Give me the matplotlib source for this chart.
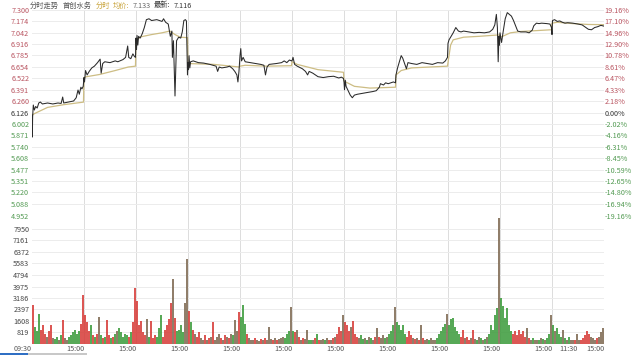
import numpy as np
import matplotlib
matplotlib.use("Agg")
import matplotlib.pyplot as plt
from matplotlib.patches import Rectangle

plt.rcParams['font.family'] = ['Noto Sans CJK SC', 'DejaVu Sans']

# ---- data ----
# price line keypoints: time in trading days from the first open, price
price_t = [
    0.000, 0.006, 0.012, 0.025, 0.045, 0.070, 0.100, 0.130, 0.160, 0.200, 0.300, 0.400, 0.500,
    0.560, 0.590, 0.610, 0.700, 0.800, 0.850, 0.885, 0.910, 0.940, 0.960, 0.985,
    1.000, 1.010, 1.030, 1.060, 1.100, 1.150, 1.200, 1.260, 1.310, 1.330, 1.360, 1.400, 1.500,
    1.600, 1.650, 1.750, 1.800, 1.840, 1.860, 1.900, 1.940, 1.970, 1.990,
    2.000, 2.010, 2.020, 2.035, 2.050, 2.080, 2.120, 2.160, 2.200, 2.250, 2.300, 2.400, 2.500,
    2.530, 2.570, 2.620, 2.660, 2.690, 2.700, 2.720, 2.750, 2.780, 2.820, 2.860, 2.890, 2.920,
    2.950, 2.970, 2.990,
    3.000, 3.010, 3.020, 3.035, 3.050, 3.100, 3.200, 3.300, 3.420, 3.540, 3.570, 3.600, 3.650,
    3.750, 3.800, 3.860, 3.900, 3.940, 3.960, 3.980,
    4.000, 4.015, 4.030, 4.060, 4.100, 4.200, 4.300, 4.400, 4.460, 4.490, 4.520, 4.560, 4.700,
    4.800, 4.850, 4.900, 4.950, 4.990,
    5.000, 5.020, 5.050, 5.100, 5.200, 5.260, 5.300, 5.330, 5.400, 5.500, 5.600, 5.700, 5.800,
    5.900, 5.950, 5.990,
    6.000, 6.010, 6.025, 6.040, 6.080, 6.120, 6.160, 6.200, 6.260, 6.350, 6.450, 6.550, 6.620,
    6.680, 6.700, 6.760, 6.800, 6.850, 6.900, 6.950, 6.990,
    7.000, 7.030, 7.060, 7.100, 7.130, 7.160, 7.200, 7.230, 7.300, 7.400, 7.500, 7.600, 7.700,
    7.800, 7.900, 7.950, 7.990,
    8.000, 8.020, 8.060, 8.100, 8.150, 8.200, 8.250, 8.300, 8.400, 8.500, 8.600, 8.700, 8.800,
    8.860, 8.900, 8.930, 8.950, 8.965, 8.980, 8.990,
    9.000, 9.030, 9.060, 9.100, 9.140, 9.180, 9.220, 9.260, 9.300, 9.340, 9.400, 9.500, 9.560,
    9.620, 9.650, 9.700, 9.750, 9.800, 9.900, 9.960, 9.990,
    10.000, 10.010, 10.050, 10.100, 10.150, 10.200, 10.250, 10.300, 10.400, 10.500, 10.580,
    10.650, 10.700, 10.760, 10.820, 10.880, 10.940, 11.000,
]
price_v = [
    6.100, 5.852, 6.080, 6.217, 6.160, 6.200, 6.183, 6.240, 6.251, 6.229, 6.240, 6.229, 6.240,
    6.235, 6.308, 6.240, 6.251, 6.263, 6.300, 6.388, 6.340, 6.420, 6.400, 6.430,
    6.530, 6.480, 6.610, 6.560, 6.600, 6.640, 6.660, 6.700, 6.740, 6.580, 6.690, 6.710, 6.700,
    6.720, 6.710, 6.735, 6.760, 6.890, 6.760, 6.745, 6.800, 6.770, 6.760,
    6.980, 6.850, 7.010, 6.900, 7.000, 6.980, 7.030, 7.100, 7.190, 7.200, 7.180, 7.190, 7.170,
    7.200, 7.160, 7.140, 7.000, 7.060, 6.760, 6.950, 6.320, 6.950, 6.990, 6.980, 7.050, 7.180,
    7.190, 7.175, 6.560,
    6.700, 6.620, 6.780, 6.640, 6.710, 6.720, 6.700, 6.695, 6.680, 6.660, 6.600, 6.650, 6.640,
    6.650, 6.660, 6.630, 6.600, 6.560, 6.480, 6.600,
    6.780, 6.860, 6.720, 6.760, 6.710, 6.700, 6.690, 6.680, 6.670, 6.560, 6.650, 6.680, 6.690,
    6.700, 6.720, 6.700, 6.730, 6.720,
    6.720, 6.760, 6.680, 6.660, 6.630, 6.600, 6.560, 6.600, 6.580, 6.540, 6.530, 6.540, 6.545,
    6.525, 6.535, 6.520,
    6.480, 6.390, 6.500, 6.430, 6.380, 6.330, 6.300, 6.330, 6.340, 6.350, 6.360, 6.370, 6.380,
    6.420, 6.460, 6.445, 6.470, 6.460, 6.470, 6.480, 6.470,
    6.560, 6.640, 6.700, 6.780, 6.750, 6.700, 6.630, 6.700, 6.690, 6.680, 6.700, 6.690, 6.680,
    6.700, 6.695, 6.720, 6.760,
    6.920, 6.960, 7.000, 7.040, 7.100, 7.060, 7.050, 7.060, 7.050, 7.040, 7.045, 7.040, 7.050,
    7.080, 7.130, 7.250, 7.100, 6.710, 7.000, 6.900,
    7.040, 6.930, 7.050, 7.200, 7.270, 7.250, 7.230, 7.180, 7.120, 7.060, 7.050, 7.050, 7.040,
    7.070, 7.120, 7.150, 7.145, 7.150, 7.145, 7.140, 7.100,
    7.020, 7.180, 7.190, 7.170, 7.175, 7.160, 7.150, 7.155, 7.150, 7.140, 7.130,
    7.100, 7.080, 7.075, 7.100, 7.110, 7.125, 7.116,
]

# average price line keypoints
avg_t = [
    0.00, 0.05, 0.30, 0.60, 0.99,
    1.00, 1.05, 1.30, 1.60, 1.85, 1.99,
    2.00, 2.10, 2.30, 2.50, 2.65, 2.75, 2.85, 2.99,
    3.00, 3.50, 3.99,
    4.00, 4.10, 4.50, 4.99,
    5.00, 5.10, 5.50, 5.99,
    6.00, 6.20, 6.50, 6.99,
    7.00, 7.10, 7.30, 7.99,
    8.00, 8.05, 8.10, 8.30, 8.60, 8.95, 8.99,
    9.00, 9.05, 9.20, 9.40, 9.70, 9.99,
    10.00, 10.10, 10.40, 10.70, 11.00,
]
avg_v = [
    6.100, 6.120, 6.190, 6.220, 6.250,
    6.530, 6.540, 6.565, 6.610, 6.650, 6.660,
    6.960, 6.995, 7.020, 7.040, 7.060, 7.020, 6.990, 6.985,
    6.690, 6.680, 6.650,
    6.660, 6.670, 6.660, 6.665,
    6.710, 6.680, 6.620, 6.590,
    6.490, 6.430, 6.410, 6.420,
    6.560, 6.610, 6.640, 6.660,
    6.700, 6.900, 6.960, 6.990, 7.000, 7.015, 7.015,
    6.990, 7.000, 7.040, 7.055, 7.065, 7.075,
    7.150, 7.160, 7.145, 7.135, 7.133,
]

# volume, 26 bars per day, and direction of each bar (u=up, d=down, n=flat)
volume = [
    # day 1
    2700, 1200, 900, 2100, 1000, 1300, 700, 500, 900, 1300, 400, 350, 500,
    300, 600, 1650, 400, 300, 450, 600, 800, 950, 700, 900, 1400, 3400,
    # day 2
    2000, 1500, 900, 1300, 600, 500, 700, 1850, 600, 400, 500, 1650, 600,
    400, 500, 700, 900, 1100, 800, 500, 700, 600, 500, 800, 1500, 3850,
    # day 3
    3000, 1300, 1600, 800, 600, 1700, 500, 1600, 400, 600, 500, 1100, 2000,
    500, 1000, 1300, 1700, 2800, 4500, 1800, 900, 1000, 1300, 800, 2800, 5900,
    # day 4
    2300, 1500, 1000, 700, 500, 800, 400, 300, 600, 300, 400, 500, 1500,
    300, 500, 700, 400, 300, 600, 500, 400, 700, 600, 1650, 900, 2200,
    # day 5
    1900, 2700, 1400, 700, 400, 300, 250, 400, 300, 200, 350, 300, 400,
    300, 1150, 350, 250, 400, 300, 350, 400, 500, 400, 700, 900, 2550,
    # day 6
    900, 800, 1000, 500, 300, 400, 350, 1000, 300, 250, 300, 400, 700,
    300, 250, 350, 300, 400, 300, 250, 400, 500, 700, 1200, 900, 2000,
    # day 7
    1500, 1300, 900, 1200, 1600, 700, 500, 400, 600, 350, 400, 300, 500,
    400, 300, 450, 1100, 500, 400, 600, 400, 500, 700, 900, 1300, 2550,
    # day 8
    1500, 1300, 1000, 1300, 700, 500, 900, 600, 400, 350, 400, 300, 1300,
    400, 300, 350, 300, 400, 300, 250, 400, 700, 900, 1200, 1400, 2100,
    # day 9
    1300, 1700, 1800, 1200, 900, 700, 500, 1000, 400, 500, 300, 400, 1000,
    350, 300, 500, 400, 300, 350, 500, 700, 1300, 1000, 2000, 2500, 8700,
    # day 10
    3200, 2600, 1800, 2500, 1300, 900, 700, 900, 600, 1000, 700, 900, 500,
    1100, 400, 300, 400, 300, 250, 300, 400, 350, 300, 400, 700, 2000,
    # day 11
    1300, 900, 1100, 700, 500, 1000, 400, 300, 500, 300, 250, 300, 700,
    300, 250, 400, 600, 900, 700, 500, 400, 300, 400, 500, 800, 1100,
]
vol_dir = (
    "uddduuunuunddndunndddddduun"[:26]
    + "uuududunduduududnddddduduuun"[:26]
    + "uuuuunduuuddduuuuunudddden"[:26]
    + "udunuunnunununnnununundnnuu"[:26]
    + "dddunnnunnununnnununnndddn"
    + "dunununnddnudunndnununuuun"
    + "uuunuuunddndndnununndndddn"
    + "ddddduuununununndnnndddddn"
    + "dddddduunuunundndndndddddn"
    + "dddddduuuuuuunundnndndnddn"
    + "dndddndndnnunnuuuuunnnunnn"
)

price_ticks = [7.300, 7.174, 7.042, 6.916, 6.785, 6.654, 6.522, 6.391, 6.260, 6.126,
               6.002, 5.871, 5.740, 5.608, 5.477, 5.351, 5.220, 5.088, 4.952]
pct_labels = ["19.16%", "17.10%", "14.96%", "12.90%", "10.78%", "8.61%", "6.47%", "4.33%",
              "2.18%", "0.00%", "-2.02%", "-4.16%", "-6.31%", "-8.45%", "-10.59%",
              "-12.65%", "-14.80%", "-16.94%", "-19.16%"]
prev_close = 6.126
vol_ticks = [7950, 7161, 6372, 5583, 4794, 3975, 3186, 2397, 1608, 819]
x_ticks = [0, 1, 2, 3, 4, 5, 6, 7, 8, 9, 10, 10.5, 11]
x_labels = ["09:30"] + ["15:00"] * 10 + ["11:30", "15:00"]
n_days = 11
bars_per_day = 26

RED = "#b95460"
GREEN = "#529a52"
GRID = "#ececec"
FS = 5.2

fig = plt.figure(figsize=(6.4, 3.55), dpi=100)
W, H = 640.0, 355.0
ax = fig.add_axes([32 / W, 1 - 216 / H, 572 / W, 206 / H])
axv = fig.add_axes([32 / W, 1 - 344 / H, 572 / W, 128 / H])

for a in (ax, axv):
    for s in a.spines.values():
        s.set_visible(False)
    a.set_xlim(0, n_days)
    a.tick_params(length=0, labelsize=FS, pad=2)
    for d in range(1, n_days):
        a.axvline(d, color="#dcdcdc", lw=0.7, zorder=0)
    a.grid(axis="y", color=GRID, lw=0.7, zorder=0)
    a.set_axisbelow(True)

# price panel
ax.set_ylim(price_ticks[-1], price_ticks[0])
ax.set_yticks(price_ticks)
ax.set_yticklabels(["%.3f" % p for p in price_ticks])
ax.set_xticks([])
ax.plot(avg_t, avg_v, color="#cdbd84", lw=0.9, zorder=2)
ax.plot(price_t, price_v, color="#2a2a2a", lw=0.75, zorder=3)

axr = ax.twinx()
axr.set_ylim(price_ticks[-1], price_ticks[0])
axr.set_yticks(price_ticks)
axr.set_yticklabels(pct_labels)
axr.tick_params(length=0, labelsize=FS, pad=0.5)
for s in axr.spines.values():
    s.set_visible(False)

for lab_l, lab_r, p in zip(ax.get_yticklabels(), axr.get_yticklabels(), price_ticks):
    c = RED if p > prev_close + 1e-6 else (GREEN if p < prev_close - 1e-6 else "#333333")
    lab_l.set_color(c)
    lab_r.set_color(c)

# volume panel
vol = np.array(volume[: n_days * bars_per_day])
xs = (np.arange(len(vol)) + 0.5) / bars_per_day
col_map = {"u": "#d63a36", "d": "#3a9a3a", "n": "#7d6850"}
colors = [col_map.get(c, "#7d6850") for c in vol_dir[: len(vol)]]
axv.bar(xs, vol, width=0.85 / bars_per_day, color=colors, alpha=0.85, lw=0, zorder=2)
axv.set_ylim(0, 8849)
axv.set_yticks(vol_ticks)
axv.set_yticklabels([str(v) for v in vol_ticks], color="#444444")
axv.set_xticks(x_ticks)
axv.set_xticklabels(x_labels, ha="right", color="#555555")
axv.tick_params(axis="x", pad=0.5)

# header
hy = 1 - 5.5 / H
HFS = 5.2
fig.text(30 / W, hy, "分时走势", fontsize=HFS, color="#555555", va="center")
fig.text(63 / W, hy, "首创水务", fontsize=HFS, color="#555555", va="center")
fig.text(96 / W, hy, "分时", fontsize=HFS, color="#c9a43c", va="center")
fig.text(113 / W, hy, "均价:", fontsize=HFS, color="#c9a43c", va="center")
fig.text(133 / W, hy, "7.133", fontsize=HFS, color="#666666", va="center")
fig.text(154 / W, hy, "最新:", fontsize=HFS, color="#333333", va="center")
fig.text(174 / W, hy, "7.116", fontsize=HFS, color="#333333", va="center")

# scroll indicator at the bottom
fig.patches.append(Rectangle((0, 0), 87 / W, 2 / H, transform=fig.transFigure,
                             color="#c8c8c8", lw=0))
fig.patches.append(Rectangle((0, 0), 28 / W, 2 / H, transform=fig.transFigure,
                             color="#2f6fc4", lw=0))

fig.savefig("out.png", dpi=100, facecolor="white")
